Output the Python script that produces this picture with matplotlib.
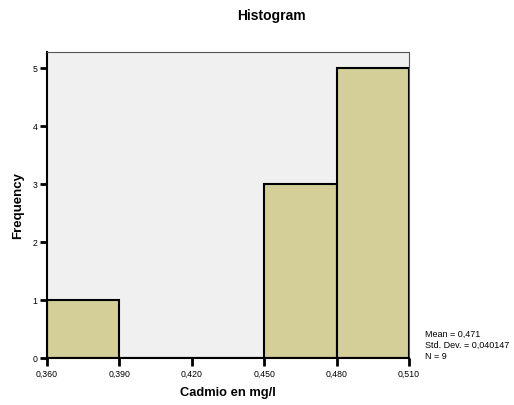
import matplotlib
matplotlib.use("Agg")
import matplotlib.pyplot as plt

plt.rcParams['font.family'] = ['Liberation Sans', 'DejaVu Sans']

bin_edges = [0.36, 0.39, 0.42, 0.45, 0.48, 0.51]
counts = [1, 0, 0, 3, 5]
x_ticks = [0.36, 0.39, 0.42, 0.45, 0.48, 0.51]
x_tick_labels = ["0,360", "0,390", "0,420", "0,450", "0,480", "0,510"]
y_ticks = [0, 1, 2, 3, 4, 5]
stats_text = "Mean = 0,471\nStd. Dev. = 0,040147\nN = 9"

fig = plt.figure(figsize=(5.14, 4.06), dpi=100)
ax = fig.add_axes([0.0914, 0.1158, 0.7043, 0.7537])
ax.set_facecolor("#f0f0f0")

lefts = bin_edges[:-1]
widths = [bin_edges[i + 1] - bin_edges[i] for i in range(len(counts))]
ax.bar(lefts, counts, width=widths, align="edge", color="#d4cf98",
       edgecolor="black", linewidth=1.5, zorder=2)

ax.set_xlim(0.36, 0.51)
ax.set_ylim(0, 5.276)
ax.set_xticks(x_ticks)
ax.set_xticklabels(x_tick_labels)
ax.set_yticks(y_ticks)

ax.tick_params(axis="both", direction="out", length=5.5, width=2,
               labelsize=6.3, colors="black", pad=2)
ax.tick_params(axis="y", length=5)

for s in ["top", "right"]:
    ax.spines[s].set_color("#555555")
    ax.spines[s].set_linewidth(0.8)
for s in ["left", "bottom"]:
    ax.spines[s].set_color("black")
    ax.spines[s].set_linewidth(1.5)

fig.text(271 / 514, 1 - 16 / 406, "Histogram", fontsize=10, fontweight="bold",
         ha="center", va="center")
ax.set_xlabel("Cadmio en mg/l", fontsize=9.3, fontweight="bold", labelpad=6)
ax.set_ylabel("Frequency", fontsize=9.5, fontweight="bold", labelpad=6)

fig.text(0.827, 0.112, stats_text, fontsize=6.5, va="bottom", ha="left",
         linespacing=1.25)

fig.savefig("out.png", dpi=100)
